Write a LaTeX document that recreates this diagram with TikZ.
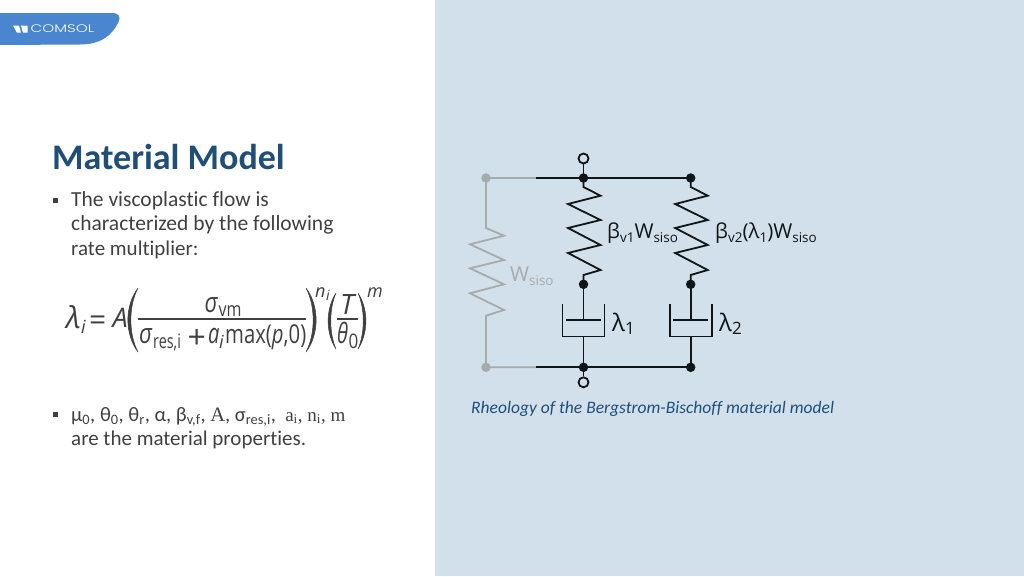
\documentclass[tikz,border=0pt]{standalone}
\usepackage{amsmath}
\usepackage{fontspec}
\setmainfont[Ligatures=NoCommon]{Carlito}
\newfontfamily\labelfont{Open Sans}
\newfontfamily\logofont{Poppins Light}
\newfontfamily\serifpart{Liberation Serif}
\usetikzlibrary{calc}
\definecolor{panelblue}{HTML}{D2E0EB}
\definecolor{logoblue}{HTML}{4A86CF}
\definecolor{titleblue}{HTML}{1F4E79}
\definecolor{bodygray}{HTML}{404040}
\definecolor{wiregray}{HTML}{A6ABAE}
\definecolor{wireblack}{HTML}{101518}
\newcommand{\fsize}[1]{\fontsize{#1}{#1}\selectfont}
\newcommand{\lowtext}[1]{\raisebox{-0.22em}{\fsize{13.5}#1}}
\tikzset{
  bodytext/.style={anchor=base west,inner sep=0pt,text=bodygray,font=\fsize{21.5}},
  bulletmark/.style={fill=bodygray,draw=none,minimum size=5pt,inner sep=0pt},
  eqtext/.style={anchor=base west,inner sep=0pt,text=bodygray,font=\fsize{28}\labelfont\itshape},
  eqsmall/.style={anchor=base west,inner sep=0pt,text=bodygray,font=\fsize{18}\labelfont\itshape},
  eqsub/.style={anchor=base west,inner sep=0pt,text=bodygray,font=\fsize{20}\labelfont},
  circuitlabel/.style={anchor=base west,inner sep=0pt,text=wireblack,font=\fsize{21}\labelfont},
  junction/.style={circle,fill=#1,draw=none,minimum size=9.5pt,inner sep=0pt},
  terminal/.style={circle,draw=wireblack,fill=panelblue,line width=1.8pt,minimum size=10pt,inner sep=0pt},
  eqparen/.style={fill=bodygray,draw=bodygray,line width=.5pt},
  wire/.style={line width=1.8pt,wireblack},
  branch/.pic={code={%
      % spring
      \coordinate (-top) at (0,0);
      \coordinate (-mid) at (0,106.3);
      \coordinate (-rod) at (0,142);
      \coordinate (-cyl) at (0,158.5);
      \coordinate (-bot) at (0,189.3);
      \draw [wire] (-top) -- (0,9) -- (17,17.7) -- (-15.5,26) -- (17,42) -- (-15.5,50)
        -- (17,67) -- (-15.5,75) -- (17,92) -- (0,97) -- (-mid);
      \node [junction=wireblack] (-dot) at (-mid) {};
      % dashpot
      \draw [wire] (-mid) -- (-rod);
      \draw [wire] (-17.5,142) -- (17.5,142);
      \draw [wire] (-21,126) -- (-21,158.5) -- (21,158.5) -- (21,126);
      \draw [wire] (-cyl) -- (-bot);
  }}
}
\begin{document}
\begin{tikzpicture}[x=1pt,y=-1pt,line join=miter]
    \useasboundingbox (0,0) rectangle (1024,576);

    % background and logo
    \fill [panelblue] (435,0) rectangle (1024,576);
    \fill [logoblue] (0,13) -- (112,13) .. controls (119,13) and (121,17) .. (118.5,22)
      .. controls (112,36) and (100,44.5) .. (80,44.5) -- (0,45) -- cycle;
    \fill [white] (13,25.5) -- (19,25.5) -- (21,32.7) -- (17,32.7) -- cycle;
    \fill [white] (21,25.5) -- (27.5,25.5) -- (27.5,32.7) -- (23,32.7) -- cycle;
    \node [anchor=base west,inner sep=0pt,text=white,font=\fsize{11}\logofont] (logo) at (30.5,32.7) {\scalebox{1.38}[1]{COMSOL}};

    % left column
    \node [anchor=base west,inner sep=0pt,text=titleblue,font=\fsize{36}\bfseries] (title) at (52,169) {Material Model};
    \node [bulletmark] (bulleta) at (55.5,200) {};
    \node [bodytext] (linea) at (71,206) {The viscoplastic flow is};
    \node [bodytext] (lineb) at (71,230) {characterized by the following};
    \node [bodytext,font=\fsize{21}] (linec) at (71,255) {rate multiplier:};
    \node [bulletmark] (bulletb) at (55.5,414.5) {};
    \node [bodytext,font=\fsize{20.5}] (lined) at (71,421) {μ\textsubscript{0}, θ\textsubscript{0}, θ\textsubscript{r}, α, β\textsubscript{v,f}, {\serifpart A}, σ\textsubscript{res,i}, {\serifpart\fsize{19} a\textsubscript{i}, n\textsubscript{i}, m}};
    \node [bodytext,font=\fsize{21}] (linee) at (71,445) {are the material properties.};

    % rate multiplier
    \node [eqtext,font=\fsize{30}\labelfont\itshape] (lam) at (66,328) {λ};
    \node [eqsmall] (lamsub) at (81,333) {i};
    \node [eqtext,font=\fsize{30}\labelfont] (equal) at (89,330) {=};
    \node [eqtext,font=\fsize{27}\labelfont\itshape] (coefa) at (112.5,327) {A};
    \draw [eqparen] (138,288) .. controls (124.5,306) and (124.5,334) .. (138,352)
      .. controls (128.5,334) and (128.5,306) .. (138,288);
    \draw [eqparen] (306,288) .. controls (319.5,306) and (319.5,334) .. (306,352)
      .. controls (315.5,334) and (315.5,306) .. (306,288);
    \node [eqtext] (signum) at (204.5,312) {\scalebox{.8}[1]{σ}};
    \node [eqsub] (signumsub) at (218.5,316) {\scalebox{.8}[1]{vm}};
    \draw [draw=bodygray,line width=1.5pt] (138,319) -- (306,319);
    \node [eqtext] (sigres) at (139,343) {\scalebox{.8}[1]{σ}};
    \node [eqsub] (sigressub) at (153,348) {\scalebox{.72}[1]{res,i}};
    \node [eqtext,font=\fsize{32}\labelfont] (plus) at (187.5,348) {+};
    \node [eqtext] (coefb) at (208,343) {\scalebox{.72}[1]{a}};
    \node [eqsmall] (coefbsub) at (219,348) {i};
    \node [eqtext,font=\fsize{26}\labelfont] (maxfun) at (225,343) {\scalebox{.78}[1]{max(\textit{p},0)}};
    \node [eqsmall] (expn) at (315,297) {n};
    \node [eqsmall,font=\fsize{14}\labelfont\itshape] (expnsub) at (326,300) {i};
    \draw [eqparen] (336,293) .. controls (325.5,309) and (325.5,333) .. (336,349)
      .. controls (329,333) and (329,309) .. (336,293);
    \draw [eqparen] (358,293) .. controls (368.5,309) and (368.5,333) .. (358,349)
      .. controls (365,333) and (365,309) .. (358,293);
    \node [eqtext] (temp) at (340,314) {T};
    \draw [draw=bodygray,line width=1.5pt] (337,319) -- (358,319);
    \node [eqtext] (theta) at (337,343) {\scalebox{.72}[1]{θ}};
    \node [eqsub] (thetasub) at (348.5,348) {\scalebox{.85}[1]{0}};
    \node [eqsmall] (expm) at (367,297) {m};

    % circuit
    \coordinate (grayTL) at (486,178);
    \coordinate (grayBL) at (486,367.3);
    \coordinate (blackT) at (536,178);
    \coordinate (blackB) at (536,367.3);
    \path (583.5,178) pic (left) {branch};
    \path (690.7,178) pic (right) {branch};

    \draw [line width=1.8pt,wiregray] (blackT) -- (grayTL) -- (486,228) -- (504,235.7) -- (470,244.3)
      -- (504,260) -- (470,268.3) -- (504,284.3) -- (470,293.3) -- (504,310) -- (486,315.7)
      -- (grayBL) -- (blackB);
    \node [junction=wiregray] (dotTL) at (grayTL) {};
    \node [junction=wiregray] (dotBL) at (grayBL) {};

    \draw [wire] (blackT) -- (left-top) -- (right-top);
    \draw [wire] (blackB) -- (left-bot) -- (right-bot);
    \node [terminal] (termT) at (583.5,158.5) {};
    \node [terminal] (termB) at (583.5,382.3) {};
    \draw [wire] (termT) -- (left-top);
    \draw [wire] (left-bot) -- (termB);
    \node [junction=wireblack] (dotA) at (left-top) {};
    \node [junction=wireblack] (dotB) at (right-top) {};
    \node [junction=wireblack] (dotC) at (left-bot) {};
    \node [junction=wireblack] (dotD) at (right-bot) {};

    % labels
    \node [circuitlabel,font=\fsize{20.5}\labelfont] (lblb) at (607,238) {β\lowtext{v1}W\lowtext{siso}};
    \node [circuitlabel,font=\fsize{20.5}\labelfont] (lblc) at (715,238) {β\lowtext{v2}(λ\lowtext{1})W\lowtext{siso}};
    \node [circuitlabel,font=\fsize{20.5}\labelfont,text=wiregray] (lbla) at (510,281) {W\lowtext{siso}};
    \node [circuitlabel,font=\fsize{24}\labelfont] (lbld) at (612,331) {λ\raisebox{-0.15em}{\fsize{17}1}};
    \node [circuitlabel,font=\fsize{24}\labelfont] (lble) at (719,331) {λ\raisebox{-0.15em}{\fsize{17}2}};
    \node [anchor=base west,inner sep=0pt,text=titleblue,font=\fsize{17.5}\itshape] (caption) at (471,413) {Rheology of the Bergstrom-Bischoff material model};
\end{tikzpicture}
\end{document}
